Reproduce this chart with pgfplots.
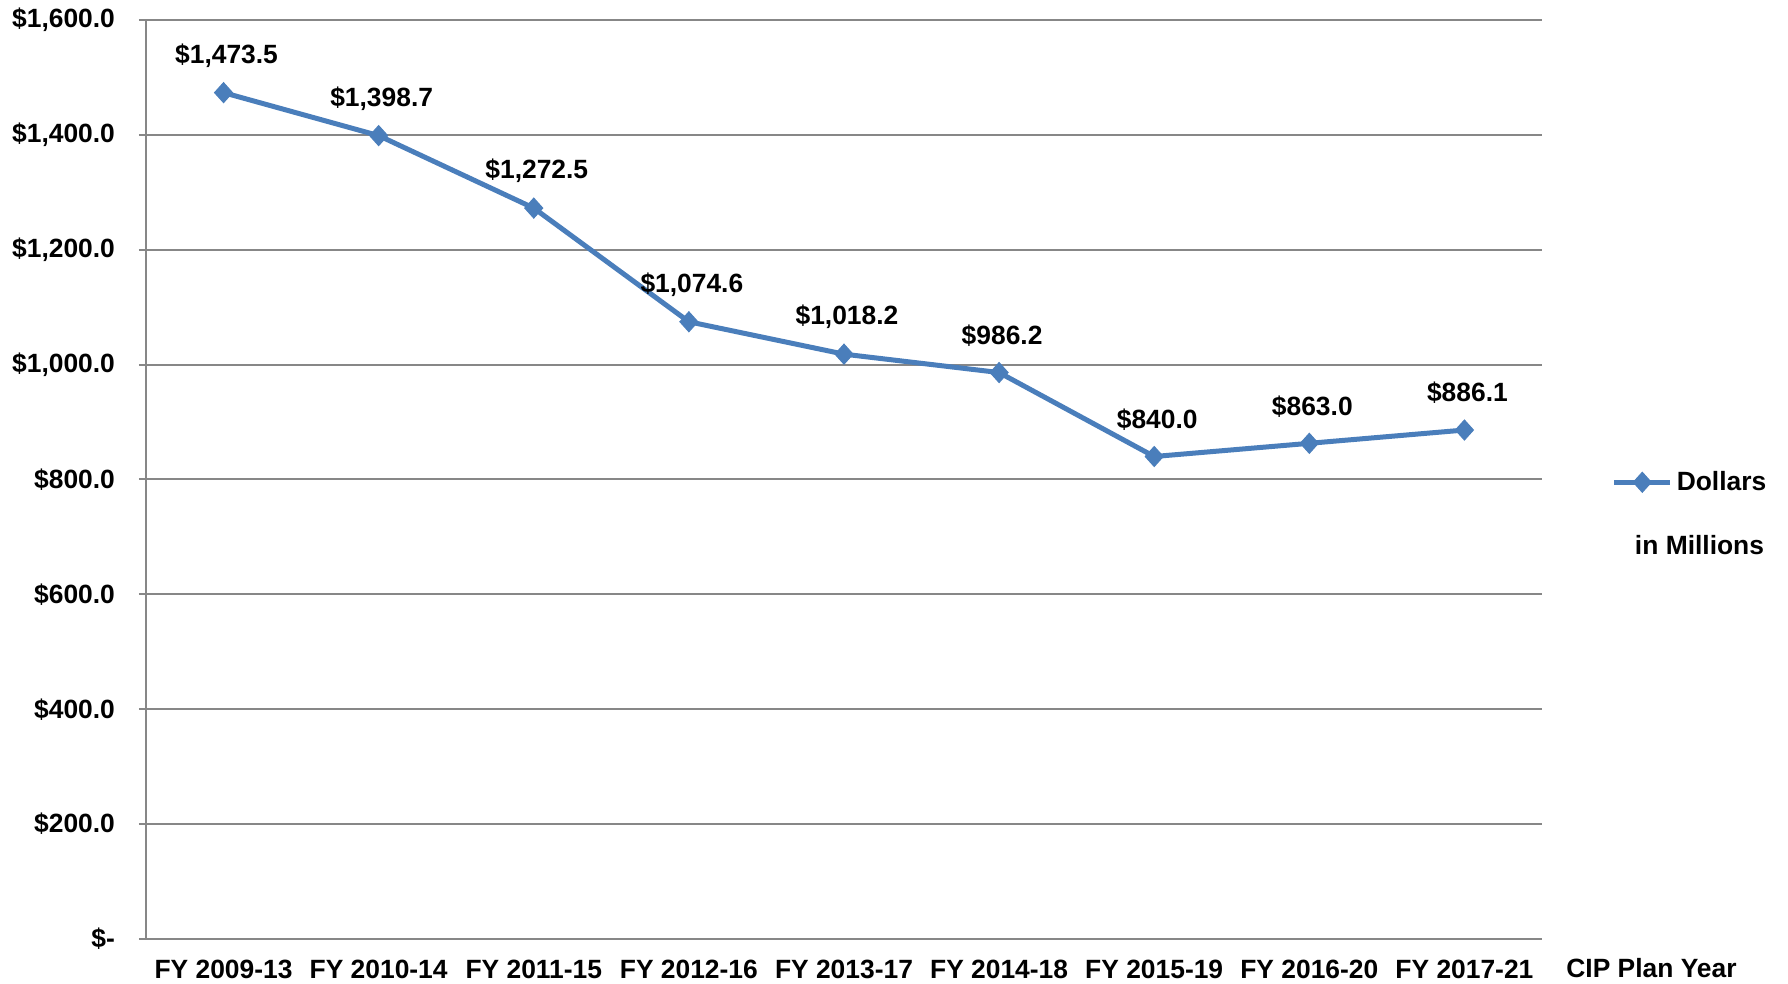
\documentclass[border=0pt]{standalone}
\usepackage{pgfplots}
\pgfplotsset{compat=1.18}
\usepackage{fontspec}
\setmainfont{Liberation Sans}
\definecolor{lineblue}{HTML}{4A7EBB}
\definecolor{gridgray}{HTML}{878787}
\newcommand{\lf}{\bfseries\fontsize{13.2}{15.8}\selectfont}
\begin{document}
\begin{tikzpicture}
\begin{axis}[
  scale only axis,
  width=698pt, height=459.5pt,
  xmin=0.5, xmax=9.5,
  ymin=0, ymax=1600,
  axis x line*=bottom, axis y line*=left,
  axis line style={gridgray, line width=1pt},
  xtick={1,...,9},
  xticklabels={FY 2009-13,FY 2010-14,FY 2011-15,FY 2012-16,FY 2013-17,FY 2014-18,FY 2015-19,FY 2016-20,FY 2017-21},
  x tick style={draw=none},
  minor xtick={0.5,1.5,...,9.5},
  minor x tick style={gridgray, line width=1pt},
  minor tick length=3.5pt,
  major tick length=3.5pt,
  tick align=outside,
  ytick={0,200,...,1600},
  yticklabels={\$-,\$200.0,\$400.0,\$600.0,\$800.0,\$1{,}000.0,\$1{,}200.0,\$1{,}400.0,\$1{,}600.0},
  y tick style={gridgray, line width=1pt},
  ymajorgrids,
  grid style={gridgray, line width=1pt},
  every tick label/.append style={font=\lf},
  /pgf/number format/assume math mode=true,
  yticklabel style={xshift=-8.5pt},
  xticklabel style={inner sep=1pt, yshift=-6pt},
  clip=false,
  legend style={at={(rel axis cs:1.050,0.497)}, anchor=west, draw=none, fill=none, font=\lf, inner sep=0pt, outer sep=0pt},
  legend image code/.code={\draw[mark repeat=2,mark phase=2,#1] plot coordinates {(0pt,0pt) (14pt,0pt) (28pt,0pt)};},
  nodes near coords,
  point meta=explicit symbolic,
  every node near coord/.append style={font=\lf, anchor=center, yshift=18.5pt, xshift=1.5pt, text=black},
]
\addplot[color=lineblue, line width=2.5pt, mark=diamond*, mark size=5pt, mark options={fill=lineblue, line width=0.5pt, xscale=1.2}]
  table[meta=label] {
x y label
1 1473.5 {\$1,473.5}
2 1398.7 {\$1,398.7}
3 1272.5 {\$1,272.5}
4 1074.6 {\$1,074.6}
5 1018.2 {\$1,018.2}
6 986.2 {\$986.2}
7 840.0 {\$840.0}
8 863.0 {\$863.0}
9 886.1 {\$886.1}
};
\addlegendentry{Dollars}
\node[font=\lf, anchor=center] at ([xshift=776.75pt, yshift=197pt]rel axis cs:0,0) {in Millions};
\node[font=\lf, anchor=west, inner sep=1pt] at ([xshift=11pt, yshift=-14.5pt]rel axis cs:1,0) {CIP Plan Year};
\path ([xshift=-73pt, yshift=-22.5pt]rel axis cs:0,0) rectangle ++(894pt,492pt);
\end{axis}
\end{tikzpicture}
\end{document}
